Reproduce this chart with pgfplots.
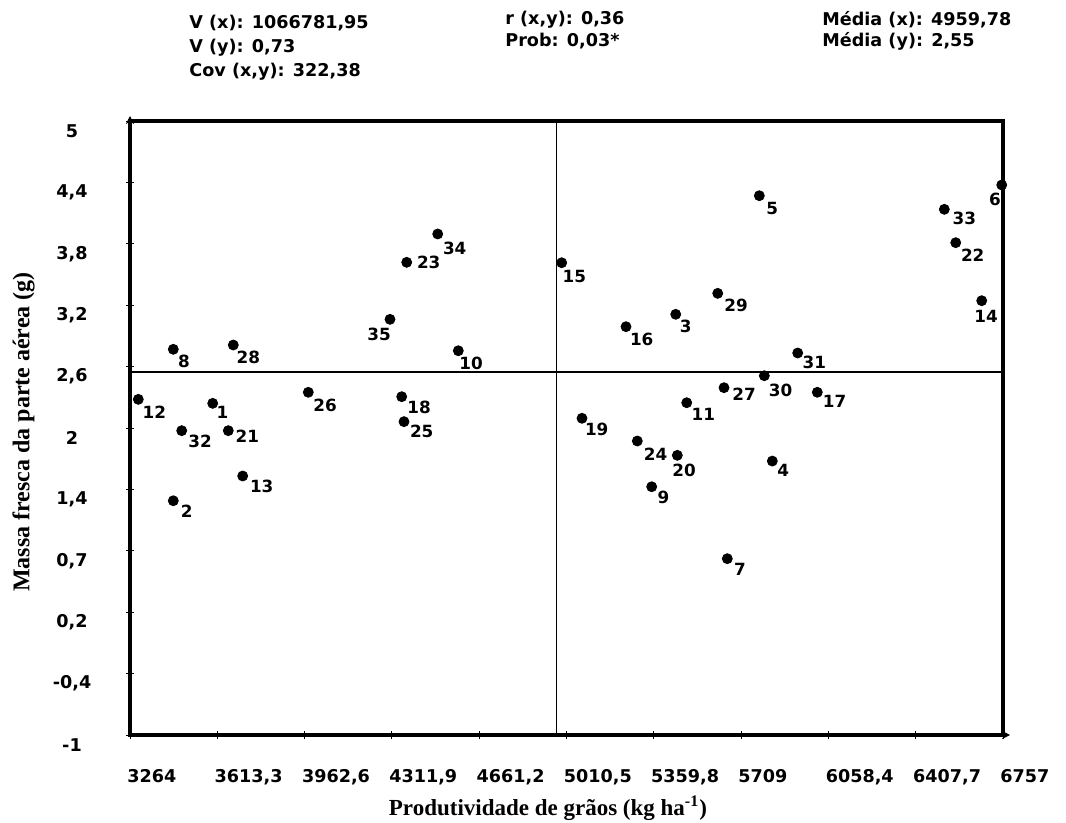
\documentclass[border=0pt]{standalone}
\usepackage{fontspec}
\setmainfont{Liberation Serif}
\newfontfamily\dv{DejaVu Sans}
\usepackage{pgfplots}
\pgfplotsset{compat=1.18}
\usetikzlibrary{arrows.meta}

\begin{document}
\begin{tikzpicture}
\begin{axis}[
  scale only axis,
  width=436.5pt, height=307pt,
  at={(65pt,-367.5pt)}, anchor=south west,
  xmin=3264, xmax=6757, ymin=-1, ymax=5,
  clip=false,
  axis line style={line width=2.4pt},
  tick pos=left,
  tick align=center,
  major tick length=4pt,
  tick style={black, line width=0.5pt},
  xtick={3264,3613.3,3962.6,4311.9,4661.2,5010.5,5359.8,5709,6058.4,6407.7,6757},
  xticklabels={3264,{3613,3},{3962,6},{4311,9},{4661,2},{5010,5},{5359,8},5709,{6058,4},{6407,7},6757},
  ytick={-1,-0.4,0.2,0.8,1.4,2,2.6,3.2,3.8,4.4,5},
  yticklabels={-1,{-0,4},{0,2},{0,7},{1,4},2,{2,6},{3,2},{3,8},{4,4},5},
  ticklabel style={font=\dv\bfseries\fontsize{8.8}{10}\selectfont, inner sep=0pt},
  xticklabel style={anchor=north west, xshift=-1.5pt, yshift=-15pt},
  yticklabel style={anchor=center, xshift=-27pt, yshift=-5pt},
]
\addplot[black, line width=0.8pt] coordinates {(4970,-1) (4970,5)};
\addplot[black, line width=0.9pt] coordinates {(3264,2.55) (6757,2.55)};
\addplot[only marks, mark=*, mark size=2.5pt, black,
  point meta=explicit symbolic,
  visualization depends on={value \thisrow{dx}\as\dx},
  visualization depends on={value \thisrow{dy}\as\dy},
  nodes near coords,
  every node near coord/.append style={anchor=center, inner sep=0pt,
    font=\dv\bfseries\fontsize{8.4}{10}\selectfont,
    xshift={\dx*0.5pt}, yshift={-\dy*0.5pt}},
] table[x=x, y=y, meta=lab] {
lab x y dx dy
1 3594.9 2.241 9.7 9.3
2 3437.3 1.289 13.3 10.3
3 5447.5 3.111 10 12.3
4 5834 1.677 11 9
5 5782 4.270 13 12.7
6 6751.9 4.375 -6.7 14
7 5653.9 0.723 12.7 10.7
8 3437.3 2.769 10.7 11.7
9 5351.4 1.426 11.7 10.7
10 4577.6 2.755 12.7 12.7
11 5491.5 2.247 16.7 11.3
12 3297.2 2.280 16 13.3
13 3714.9 1.531 19 10.7
14 6671.8 3.244 4.3 15.3
15 4991.3 3.615 12.7 14
16 5248.6 2.990 15.7 12.7
17 6014 2.349 17.3 9.3
18 4351.1 2.306 17.3 10.7
19 5072.5 2.095 14.7 11
20 5453.9 1.733 6.7 15.3
21 3657.3 1.974 19 6
22 6567.8 3.811 17 13
23 4371.1 3.619 22 0
24 5293.8 1.873 18.3 13
25 4360.3 2.062 17.7 9.3
26 3977.4 2.349 16.7 12.7
27 5640.7 2.394 20 6.3
28 3677.3 2.811 15 12.7
29 5615.5 3.316 18.3 12.3
30 5802 2.511 16.3 14.3
31 5935.6 2.733 16.7 9
32 3470.9 1.974 18.3 11
33 6522.2 4.137 20 9.3
34 4495.2 3.896 17 14.3
35 4304.3 3.062 -11 14.7
};
\end{axis}
\draw[line width=0.8pt, -{Stealth[length=4pt,width=4pt]}] (65pt,-62pt) -- (65pt,-58pt);
\draw[line width=0.8pt, -{Stealth[length=4pt,width=4pt]}] (500pt,-367.5pt) -- (505pt,-367.5pt);
\node[rotate=90, font=\bfseries\fontsize{12}{14}\selectfont] at (11.75pt,-216pt) {Massa fresca da parte aérea (g)};
\node[font=\bfseries\fontsize{11.5}{13}\selectfont] at (274pt,-404pt) {Produtividade de grãos (kg ha\textsuperscript{-1})};
\begin{scope}[every node/.style={anchor=base west, inner sep=0pt, font=\dv\bfseries\fontsize{8.8}{10}\selectfont}]
\node at (94.5pt,-14.2pt) {V (x): 1066781,95};
\node at (94.5pt,-26.5pt) {V (y): 0,73};
\node at (94.5pt,-38.5pt) {Cov (x,y): 322,38};
\node at (252.5pt,-12.5pt) {r (x,y): 0,36};
\node at (252.5pt,-23.3pt) {Prob: 0,03*};
\node at (411pt,-12.8pt) {Média (x): 4959,78};
\node at (411pt,-23.3pt) {Média (y): 2,55};
\end{scope}
\pgfresetboundingbox
\path[use as bounding box] (0,0) rectangle (533pt,-411.5pt);
\end{tikzpicture}
\end{document}
